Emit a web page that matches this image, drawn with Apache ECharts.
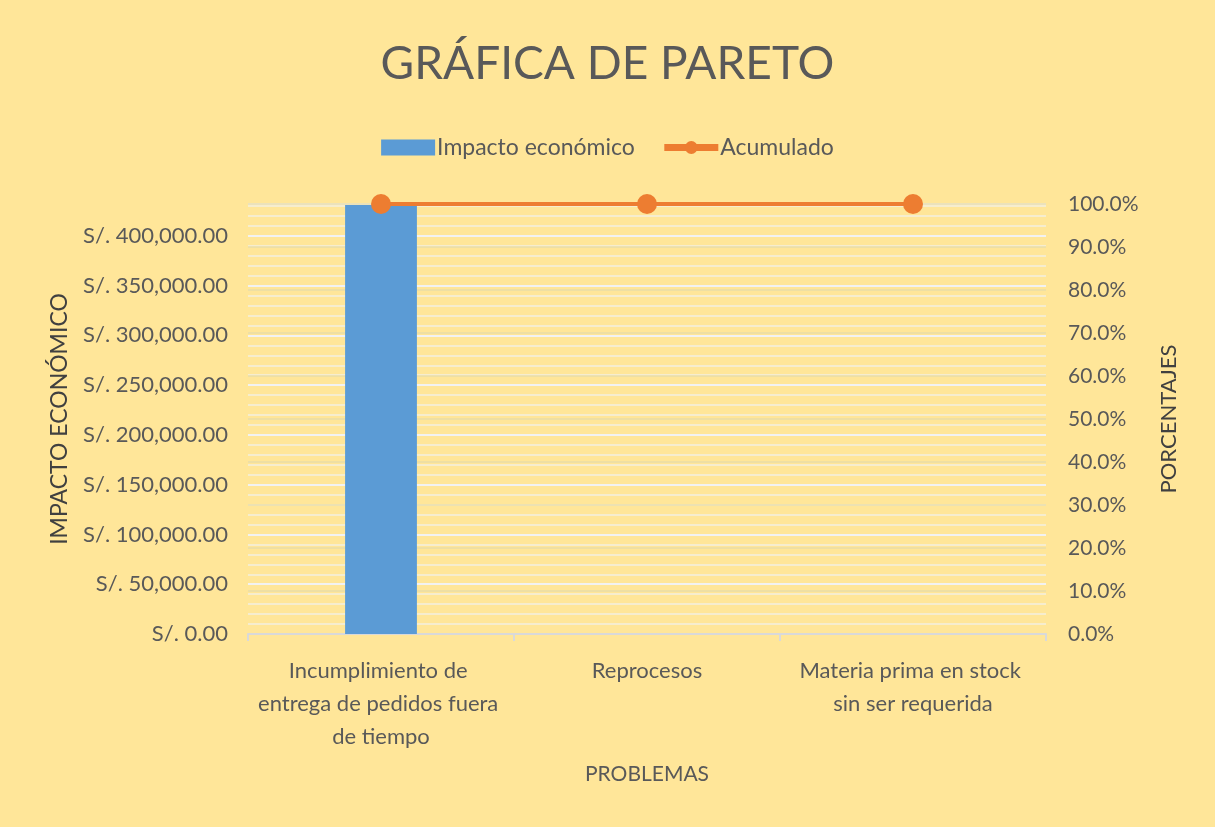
<!DOCTYPE html>
<html>
<head>
<meta charset="utf-8">
<script src="https://cdn.jsdelivr.net/npm/echarts@6/dist/echarts.min.js"></script>
<style>
html,body{margin:0;padding:0;background:#FFE699;}
#c{width:1215px;height:827px;}
</style>
</head>
<body>
<div id="c"></div>
<script>
const categories = ['Incumplimiento de entrega de pedidos fuera de tiempo', 'Reprocesos', 'Materia prima en stock sin ser requerida'];
const impacto = [431000, 0, 0];
const acumulado = [100, 100, 100];
const leftTicks = [0, 50000, 100000, 150000, 200000, 250000, 300000, 350000, 400000];
const rightTicks = [0, 10, 20, 30, 40, 50, 60, 70, 80, 90, 100];

const FONT = 'Lato';
const GRAY = '#595959';
const chart = echarts.init(document.getElementById('c'), null, {renderer: 'canvas'});

function money(v) {
  return 'S/. ' + v.toLocaleString('en-US', {minimumFractionDigits: 2, maximumFractionDigits: 2});
}

chart.setOption({
  backgroundColor: '#FFE699',
  textStyle: {fontFamily: FONT},
  title: {
    text: 'GRÁFICA DE PARETO',
    left: 'center',
    top: 36,
    textStyle: {fontFamily: FONT, fontWeight: 'normal', fontSize: 46, color: GRAY}
  },
  legend: {
    top: 131,
    left: 'center',
    itemWidth: 54,
    itemHeight: 16,
    itemGap: 26,
    textStyle: {fontFamily: FONT, fontSize: 23, color: GRAY, padding: [0, 0, 0, -3]},
    data: [
      {name: 'Impacto económico', icon: 'rect'},
      {name: 'Acumulado', lineStyle: {width: 7}}
    ]
  },
  grid: {left: 248, right: 169, top: 204, bottom: 193, containLabel: false},
  xAxis: {
    type: 'category',
    data: categories,
    name: 'PROBLEMAS',
    nameLocation: 'middle',
    nameGap: 130,
    nameTextStyle: {fontFamily: FONT, fontSize: 21, color: GRAY},
    axisLine: {lineStyle: {color: '#D9D9D9', width: 2}},
    axisTick: {show: true, length: 7, lineStyle: {color: '#D9D9D9', width: 2}},
    axisLabel: {
      fontFamily: FONT, fontSize: 22, color: GRAY, margin: 20, lineHeight: 33,
      width: 250, overflow: 'break', interval: 0
    },
    splitLine: {show: false}
  },
  yAxis: [
    {
      type: 'value',
      min: 0,
      max: 432000,
      interval: 50000,
      name: 'IMPACTO ECONÓMICO',
      nameLocation: 'middle',
      nameRotate: 90,
      nameGap: 177,
      nameTextStyle: {fontFamily: FONT, fontSize: 23, color: '#404040'},
      axisLine: {show: false},
      axisTick: {show: false},
      axisLabel: {
        fontFamily: FONT, fontSize: 22, color: GRAY, margin: 20, showMaxLabel: false,
        formatter: function (v) { return leftTicks.indexOf(v) >= 0 ? money(v) : ''; }
      },
      splitLine: {show: true, lineStyle: {color: '#F2F2F2', width: 2}},
      minorTick: {show: false, splitNumber: 5},
      minorSplitLine: {show: true, lineStyle: {color: '#F4EFDF', width: 1.5}}
    },
    {
      type: 'value',
      min: 0,
      max: 100,
      interval: 10,
      name: 'PORCENTAJES',
      nameLocation: 'middle',
      nameRotate: 90,
      nameGap: 112,
      nameTextStyle: {fontFamily: FONT, fontSize: 22, color: '#404040'},
      axisLine: {show: false},
      axisTick: {show: false},
      axisLabel: {
        fontFamily: FONT, fontSize: 21, color: GRAY, margin: 22,
        formatter: function (v) { return rightTicks.indexOf(v) >= 0 ? v.toFixed(1) + '%' : ''; }
      },
      splitLine: {show: true, lineStyle: {color: '#E8DCA8', width: 1.5}}
    }
  ],
  series: [
    {
      name: 'Impacto económico',
      type: 'bar',
      yAxisIndex: 0,
      data: impacto,
      barWidth: '27%',
      itemStyle: {color: '#5B9BD5'},
      z: 2
    },
    {
      name: 'Acumulado',
      type: 'line',
      yAxisIndex: 1,
      data: acumulado,
      symbol: 'circle',
      symbolSize: 20,
      lineStyle: {color: '#ED7D31', width: 4},
      itemStyle: {color: '#ED7D31'},
      z: 3
    }
  ]
});
</script>
</body>
</html>
